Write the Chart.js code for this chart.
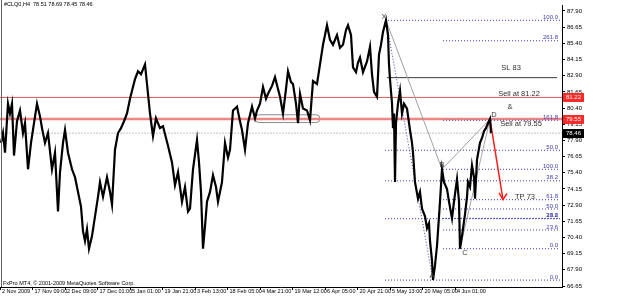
<!DOCTYPE html>
<html>
<head>
<meta charset="utf-8">
<script src="https://cdn.jsdelivr.net/npm/chart.js@4.4.1/dist/chart.umd.min.js"></script>
<style>
  html, body { margin: 0; padding: 0; background: #ffffff; }
  canvas { display: block; }
</style>
</head>
<body>
<canvas id="priceChart" width="625" height="296"></canvas>
<script>
// H4 bar number (2 bars per time-step of the chart) and traced price
const barIndex = [
  2,6,10,16,20,24,28,34,40,46,50,56,62,68,74,80,84,90,96,104,110,116,120,126,130,136,144,150,156,162,
  166,170,174,178,184,190,196,200,206,214,220,224,230,236,242,248,254,260,264,270,276,282,286,290,294,300,306,312,320,326,
  332,336,344,350,356,364,370,376,380,386,394,398,402,406,410,414,420,426,432,436,444,450,456,460,466,474,480,484,490,496,
  504,510,514,520,526,532,536,544,550,556,560,566,572,576,582,586,592,596,600,606,614,620,626,634,640,646,650,654,660,666,
  674,680,686,692,696,702,706,712,716,720,726,734,740,744,748,754,758,762,766,772,776,778,780,784,786,788,790,792,796,800,
  804,808,814,820,824,826,830,836,840,844,850,854,858,860,864,866,870,874,876,880,884,888,894,898,904,908,914,918,920,924,
  930,934,936,940,944,948,950,954,960,964,968,972,976,980,982
]
const barPrice = [
  77.71,78.47,76.95,80.74,79.98,80.74,76.73,79.38,80.21,78.47,79.23,75.67,77.71,79.23,80.74,79.76,78.85,77.71,78.47,75.67,76.95,72.41,75.44,77.71,78.70,76.95,75.67,75.06,73.92,72.79,
  70.89,70.13,71.04,69.53,70.51,72.03,73.54,74.68,73.54,75.06,73.92,72.94,77.18,78.47,78.85,79.38,79.98,81.12,81.73,82.63,83.24,83.01,83.39,83.77,82.26,79.98,78.24,79.61,78.85,79.00,
  78.09,77.48,76.20,74.45,75.44,73.17,74.30,72.41,72.63,75.67,77.94,76.20,73.92,69.53,71.27,73.17,73.92,75.21,74.30,73.17,74.68,77.71,76.57,77.18,80.21,80.51,79.38,78.70,77.18,79.23,
  80.51,79.61,80.21,80.74,82.03,81.12,81.50,82.11,82.79,81.88,81.27,79.98,81.88,83.24,82.41,82.26,80.74,79.23,81.50,80.36,80.21,79.45,82.48,82.26,83.77,85.29,86.04,86.80,85.67,85.29,
  86.04,85.06,85.29,86.42,86.80,86.04,83.54,83.17,83.92,84.30,83.17,84.00,85.14,83.01,81.65,81.27,84.53,85.29,86.27,87.18,86.04,83.77,82.63,80.74,78.85,79.98,74.68,79.23,80.74,81.73,
  79.98,80.74,80.36,78.70,77.71,76.95,74.68,73.39,73.92,72.63,72.03,71.12,71.50,70.13,68.62,67.11,68.24,69.76,70.89,73.17,75.67,74.68,74.15,73.17,71.88,73.17,74.91,73.17,69.53,70.51,
  72.18,73.54,74.68,74.30,75.97,75.06,73.39,76.42,77.71,78.09,78.62,78.85,79.23,79.55,78.46
]

const timeLabels = [
  "2 Nov 2009","17 Nov 09:00","2 Dec 09:00","17 Dec 01:00","5 Jan 01:00","19 Jan 21:00",
  "3 Feb 13:00","18 Feb 05:00","4 Mar 21:00","19 Mar 12:00","6 Apr 05:00","20 Apr 21:00",
  "5 May 13:00","20 May 05:00","4 Jun 01:00"
]
const barsPerLabel = 65
const priceTicks = [66.65,67.90,69.15,70.40,71.65,72.90,74.15,75.40,76.65,77.90,79.15,80.40,81.65,82.90,84.15,85.40,86.65,87.90]

// fibonacci levels (XA set and BC set)
const fibLabels = ["100.0","50.0","38.2","23.6","0.0","261.8","161.8","100.0","61.8","50.0","38.2","23.6","0.0"]
const fibPrices = [87.18,77.14,74.78,71.85,67.11,85.60,79.46,75.67,73.32,72.60,71.88,70.98,69.53]
const fibStart  = [770,770,770,770,770,886,886,886,886,886,886,886,886]
const fibEnd = 1120

// XABCD pattern
const patternNames  = ["X","A","B","C","D"]
const patternBars   = [772,866,884,920,980]
const patternPrices = [87.18,67.11,75.67,69.53,79.55]

const sellHigh = 81.22
const sellLow = 79.55
const stopLoss = 82.75
const bid = 78.46
const slStart = 774, slEnd = 1114

// red arrow: from last bar up to D, then down to TP
const arrowBars   = [968,980,1006]
const arrowPrices = [78.62,79.55,73.32]
const headBars    = [998,1006,1014]
const headPrices  = [73.84,73.32,73.80]

// congestion oval
const ovalBars = [510,640]
const ovalPrices = [79.28,79.88]

const notes = [
  ["SL 83",1022,83.47],
  ["Sell at 81.22",1038,81.50],
  ["&",1020,80.51],
  ["Sell at 79.55",1042,79.15],
  ["TP 73",1050,73.54]
]

const xMax = 1124
const yMin = 66.574, yMax = 88.317
const smallFont = "5.5px 'Liberation Sans', sans-serif"

const pts = (xs, ys) => xs.map((x, i) => ({x: x, y: ys[i]}))
const hline = (x0, x1, y) => [{x: x0, y: y}, {x: x1, y: y}]

const fibColor = "#3c3cb4"
const datasets = []

datasets.push({
  data: pts(barIndex, barPrice),
  borderColor: "#000000",
  borderWidth: 2.2,
  order: 0
})

datasets.push({ data: hline(0, xMax, sellHigh), borderColor: "#e05a5a", borderWidth: 1, order: 5 })
datasets.push({ data: hline(0, xMax, sellLow), borderColor: "rgba(238,120,120,0.9)", borderWidth: 2.5, order: 4 })
datasets.push({ data: hline(0, xMax, bid), borderColor: "#c4c4c4", borderWidth: 1, borderDash: [2,1], order: 6 })
datasets.push({ data: hline(slStart, slEnd, stopLoss), borderColor: "#3a3a3a", borderWidth: 1, order: 5 })

fibPrices.forEach((p, i) => {
  datasets.push({ data: hline(fibStart[i], fibEnd, p), borderColor: fibColor, borderWidth: 1, borderDash: [1,2], order: 3 })
})

const P = pts(patternBars, patternPrices)
datasets.push({ data: [P[0], P[1]], borderColor: fibColor, borderWidth: 1, borderDash: [1,2], order: 2 })
datasets.push({ data: [P[0], P[2], P[4]], borderColor: "#a0a0a0", borderWidth: 1, order: 2 })
datasets.push({ data: [P[3], P[4]], borderColor: "#a8a8a8", borderWidth: 1, order: 2 })

datasets.push({ data: pts(arrowBars, arrowPrices), borderColor: "#ff1a1a", borderWidth: 1.5, order: 1 })
datasets.push({ data: pts(headBars, headPrices), borderColor: "#ff1a1a", borderWidth: 1.5, order: 1 })

const overlay = {
  id: "overlay",
  beforeDatasetsDraw(chart){
    const ctx = chart.ctx
    const sx = chart.scales.x, sy = chart.scales.y
    // oval around the congestion
    const x0 = sx.getPixelForValue(ovalBars[0]), x1 = sx.getPixelForValue(ovalBars[1])
    const y0 = sy.getPixelForValue(ovalPrices[1]), y1 = sy.getPixelForValue(ovalPrices[0])
    const r = (y1 - y0) / 2
    ctx.save()
    ctx.strokeStyle = "#8a8a8a"
    ctx.lineWidth = 1
    ctx.beginPath()
    ctx.moveTo(x0 + r, y0)
    ctx.lineTo(x1 - r, y0)
    ctx.arc(x1 - r, y0 + r, r, -Math.PI/2, Math.PI/2)
    ctx.lineTo(x0 + r, y1)
    ctx.arc(x0 + r, y0 + r, r, Math.PI/2, Math.PI*1.5)
    ctx.stroke()
    ctx.restore()
  },
  afterDatasetsDraw(chart){
    const ctx = chart.ctx
    const sx = chart.scales.x, sy = chart.scales.y
    ctx.save()
    // fib labels
    ctx.font = "6px 'Liberation Sans', sans-serif"
    ctx.fillStyle = fibColor
    ctx.textAlign = "right"
    ctx.textBaseline = "bottom"
    fibPrices.forEach((p, i) => {
      ctx.fillText(fibLabels[i], sx.getPixelForValue(fibEnd) - 2, sy.getPixelForValue(p))
    })
    // notes
    ctx.fillStyle = "#303030"
    ctx.textAlign = "center"
    ctx.textBaseline = "middle"
    ctx.font = "7.5px 'Liberation Sans', sans-serif"
    notes.forEach(n => ctx.fillText(n[0], sx.getPixelForValue(n[1]), sy.getPixelForValue(n[2])))
    // pattern letters
    const offs = [[-2,-3],[-1,-4],[0,-4],[5,4],[4,-4]]
    ctx.fillStyle = "#404040"
    patternNames.forEach((n, i) => {
      ctx.fillText(n, sx.getPixelForValue(patternBars[i]) + offs[i][0], sy.getPixelForValue(patternPrices[i]) + offs[i][1])
    })
    ctx.restore()
  },
  afterDraw(chart){
    const ctx = chart.ctx
    const sx = chart.scales.x, sy = chart.scales.y
    const area = chart.chartArea
    ctx.save()
    // left frame line
    ctx.strokeStyle = "#606060"
    ctx.beginPath()
    ctx.moveTo(1.5, 0)
    ctx.lineTo(1.5, area.bottom)
    ctx.stroke()
    // time labels, left aligned at their tick
    ctx.font = smallFont
    ctx.fillStyle = "#000000"
    ctx.textAlign = "left"
    ctx.textBaseline = "top"
    timeLabels.forEach((t, i) => {
      ctx.fillText(t, sx.getPixelForValue(i * barsPerLabel) + 2, area.bottom + 2)
    })
    // price badges
    ctx.font = "6px 'Liberation Sans', sans-serif"
    ctx.textBaseline = "middle"
    const badges = [[sellHigh, "#ff2a2a"], [sellLow, "#ff2a2a"], [bid, "#000000"]]
    badges.forEach(b => {
      const y = Math.round(sy.getPixelForValue(b[0]))
      ctx.fillStyle = b[1]
      ctx.fillRect(area.right + 1, y - 4, 21, 9)
      ctx.fillStyle = "#ffffff"
      ctx.fillText(b[0].toFixed(2), area.right + 4, y + 0.5)
    })
    // title and copyright
    ctx.font = smallFont
    ctx.fillStyle = "#000000"
    ctx.textBaseline = "top"
    ctx.fillText("#CLQ0,H4  78.51 78.69 78.45 78.46", 4, 2)
    ctx.textBaseline = "bottom"
    ctx.fillText("FxPro MT4, \u00a9 2001-2009 MetaQuotes Software Corp.", 3, area.bottom - 1)
    ctx.restore()
  }
}

new Chart(document.getElementById("priceChart"), {
  type: "line",
  data: { datasets: datasets },
  plugins: [overlay],
  options: {
    responsive: false,
    animation: false,
    devicePixelRatio: 1,
    layout: { padding: 0 },
    elements: { point: { radius: 0 }, line: { tension: 0, fill: false } },
    plugins: { legend: { display: false }, tooltip: { enabled: false } },
    scales: {
      x: {
        type: "linear",
        position: "bottom",
        min: 0,
        max: xMax,
        afterBuildTicks: s => { s.ticks = timeLabels.map((t, i) => ({ value: i * barsPerLabel })) },
        afterFit: s => { s.height = 9 },
        ticks: { display: false },
        grid: { drawOnChartArea: false, tickLength: 3, color: "#000000" },
        border: { color: "#000000" }
      },
      y: {
        type: "linear",
        position: "right",
        min: yMin,
        max: yMax,
        afterBuildTicks: s => { s.ticks = priceTicks.map(v => ({ value: v })) },
        afterFit: s => { s.width = 63 },
        ticks: {
          padding: 2,
          color: "#000000",
          font: { size: 6, family: "'Liberation Sans', sans-serif" },
          callback: v => Number(v).toFixed(2)
        },
        grid: { drawOnChartArea: false, tickLength: 3, color: "#000000" },
        border: { color: "#000000" }
      }
    }
  }
})
</script>
</body>
</html>
